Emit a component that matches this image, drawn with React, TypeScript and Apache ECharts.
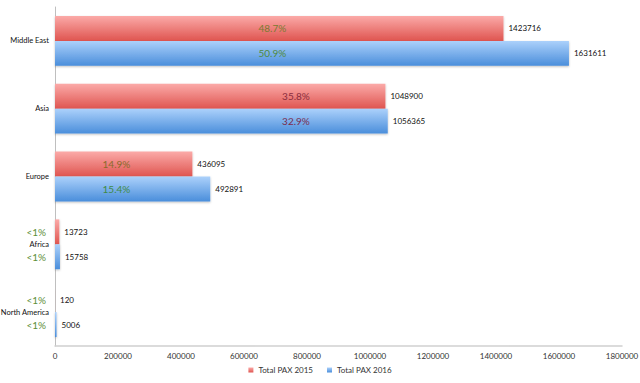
import React, { useEffect, useRef } from "react";
import * as echarts from "echarts";

const categories = ["Middle East", "Asia", "Europe", "Africa", "North America"];
const pax2015 = [1423716, 1048900, 436095, 13723, 120];
const pax2016 = [1631611, 1056365, 492891, 15758, 5006];
const share2015 = ["48.7%", "35.8%", "14.9%", "<1%", "<1%"];
const share2016 = ["50.9%", "32.9%", "15.4%", "<1%", "<1%"];
const xTicks = { min: 0, max: 1800000, interval: 200000 };

// styling: where the share labels sit (data-space anchors) and their colours
const shareAnchor = [690000, 765000, 195000, null, null];
const shareColor2015 = ["#7a7a30", "#8a2d3d", "#8a6a2a", "#5e8f3a", "#5e8f3a"];
const shareColor2016 = ["#4f8a40", "#7a2d50", "#3f8a45", "#5e8f3a", "#5e8f3a"];

const FONT = "Lato, 'Liberation Sans', sans-serif";
const CAT_GAP = 0.265;

export default function App() {
  const ref = useRef<HTMLDivElement>(null);
  useEffect(() => {
    if (!ref.current) return;
    const chart = echarts.init(ref.current, null, { renderer: "svg" });
    const grad = (top: string, bottom: string) =>
      new echarts.graphic.LinearGradient(0, 0, 0, 1, [
        { offset: 0, color: top },
        { offset: 1, color: bottom },
      ]);
    const valueLabel = {
      show: true,
      position: "right",
      distance: 5,
      color: "#111",
      fontSize: 8,
      fontFamily: FONT,
    };
    chart.setOption({
      animation: false,
      textStyle: { fontFamily: FONT },
      grid: {
        left: 55,
        right: 18,
        top: 7,
        bottom: 37,
        containLabel: false,
        outerBoundsMode: "none",
      },
      legend: {
        bottom: 4,
        left: "center",
        itemWidth: 5,
        itemHeight: 5,
        itemGap: 14,
        icon: "rect",
        textStyle: { fontSize: 8, color: "#333", fontFamily: FONT },
        data: ["Total PAX 2015", "Total PAX 2016"],
      },
      xAxis: {
        type: "value",
        min: xTicks.min,
        max: xTicks.max,
        interval: xTicks.interval,
        splitLine: { show: false },
        axisLine: { show: true, lineStyle: { color: "#d0d0d0", width: 1.5 } },
        axisTick: { show: false },
        axisLabel: {
          fontSize: 8,
          color: "#333",
          margin: 6,
          fontFamily: FONT,
          formatter: (v: number) => String(v),
        },
      },
      yAxis: {
        type: "category",
        inverse: true,
        data: categories,
        axisLine: { show: true, lineStyle: { color: "#bfbfbf", width: 1 } },
        axisTick: { show: false },
        axisLabel: { fontSize: 7.5, color: "#111", margin: 6, fontFamily: FONT },
      },
      series: [
        {
          name: "Total PAX 2015",
          type: "bar",
          data: pax2015,
          barGap: "0%",
          barCategoryGap: CAT_GAP * 100 + "%",
          itemStyle: {
            color: grad("#fbaaa8", "#df5550"),
            shadowColor: "rgba(0,0,0,0.25)",
            shadowBlur: 2,
            shadowOffsetY: 1,
          },
          label: valueLabel,
        },
        {
          name: "Total PAX 2016",
          type: "bar",
          data: pax2016,
          barGap: "0%",
          barCategoryGap: CAT_GAP * 100 + "%",
          itemStyle: {
            color: grad("#acd1fb", "#4a8edb"),
            shadowColor: "rgba(0,0,0,0.25)",
            shadowBlur: 2,
            shadowOffsetY: 1,
          },
          label: valueLabel,
        },
        {
          name: "share",
          type: "custom",
          silent: true,
          data: categories.map((_, i) => [0, i]),
          encode: { x: 0, y: 1 },
          z: 5,
          renderItem: (params: any, api: any) => {
            const i = params.dataIndex;
            const base = api.coord([0, i]);
            const band = api.size([0, 1])[1];
            const barH = (band * (1 - CAT_GAP)) / 2;
            const anchor = shareAnchor[i];
            const mk = (txt: string, color: string, y: number) => {
              const p = anchor == null ? [base[0] - 9] : api.coord([anchor, i]);
              return {
                type: "text",
                style: {
                  text: txt,
                  x: p[0],
                  y,
                  align: anchor == null ? "right" : "center",
                  verticalAlign: "middle",
                  fill: color,
                  fontSize: 10,
                  fontFamily: FONT,
                },
              };
            };
            return {
              type: "group",
              children: [
                mk(share2015[i], shareColor2015[i], base[1] - barH / 2),
                mk(share2016[i], shareColor2016[i], base[1] + barH / 2),
              ],
            };
          },
        },
      ],
    });
    return () => chart.dispose();
  }, []);
  return (
    <div
      ref={ref}
      style={{ width: 640, height: 383, position: "absolute", left: 0, top: 0 }}
    />
  );
}
